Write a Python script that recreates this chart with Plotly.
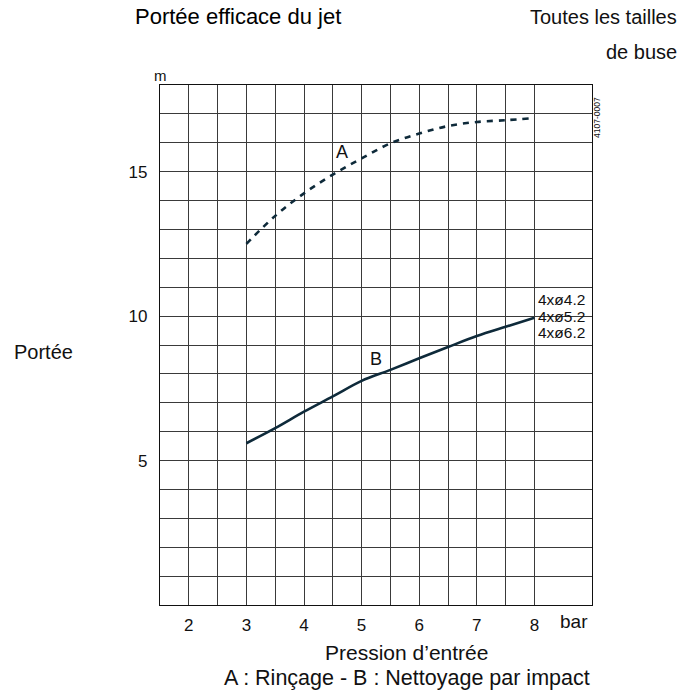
import plotly.graph_objects as go

# Data
pressure = [3, 3.5, 4, 4.5, 5, 5.5, 6, 6.5, 7, 7.5, 7.9]
range_A = [12.5, 13.47, 14.25, 14.9, 15.46, 15.98, 16.32, 16.58, 16.72, 16.78, 16.84]
pressure_B = [3, 3.5, 4, 4.5, 5, 5.5, 6, 6.5, 7, 7.5, 8]
range_B = [5.6, 6.12, 6.69, 7.22, 7.76, 8.14, 8.54, 8.93, 9.31, 9.63, 9.94]
x_ticks = [2, 3, 4, 5, 6, 7, 8]
y_ticks = [5, 10, 15]
nozzle_labels = ["4xø4.2", "4xø5.2", "4xø6.2"]
nozzle_label_y = [10.56, 9.98, 9.42]

FONT = "Liberation Sans, Arial, Helvetica, sans-serif"
LINE = "#0e2a3a"
GRID = "#3a3a3a"

fig = go.Figure()
fig.add_trace(go.Scatter(x=pressure, y=range_A, mode="lines",
                         line=dict(color=LINE, width=2.6, dash="6px,6px", shape="spline"),
                         showlegend=False, hoverinfo="skip"))
fig.add_trace(go.Scatter(x=pressure_B, y=range_B, mode="lines",
                         line=dict(color=LINE, width=2.6, shape="spline"),
                         showlegend=False, hoverinfo="skip"))

fig.update_layout(
    width=700, height=693,
    margin=dict(l=159.5, r=108, t=85, b=88),
    paper_bgcolor="white", plot_bgcolor="white",
    font=dict(family=FONT, size=17, color="#111"),
    xaxis=dict(range=[1.5, 9], tickvals=x_ticks, ticktext=[str(v) for v in x_ticks],
               showgrid=True, gridcolor=GRID, gridwidth=1, zeroline=False,
               showline=True, linecolor="#111", linewidth=1.2, mirror=True,
               ticks="", ticklabelstandoff=4,
               minor=dict(tickvals=[1.5, 2.5, 3.5, 4.5, 5.5, 6.5, 7.5], showgrid=True,
                          gridcolor=GRID, gridwidth=1, ticks=""),
               tickfont=dict(size=17)),
    yaxis=dict(range=[0, 18], tickvals=y_ticks, ticktext=[str(v) for v in y_ticks],
               showgrid=True, gridcolor=GRID, gridwidth=1, zeroline=False,
               showline=True, linecolor="#111", linewidth=1.2, mirror=True,
               ticks="", ticklabelstandoff=8,
               minor=dict(tickvals=[v for v in range(1, 18) if v not in y_ticks],
                          showgrid=True, gridcolor=GRID, gridwidth=1, ticks=""),
               tickfont=dict(size=17)),
)

ann = []
# curve labels
ann.append(dict(x=4.66, y=15.69, xref="x", yref="y", text="A", showarrow=False,
                font=dict(size=18)))
ann.append(dict(x=5.25, y=8.53, xref="x", yref="y", text="B", showarrow=False,
                font=dict(size=18)))
for t, yv in zip(nozzle_labels, nozzle_label_y):
    ann.append(dict(x=8.03, y=yv, xref="x", yref="y", text=t, showarrow=False,
                    xanchor="left", yanchor="middle", font=dict(size=15.5)))
# titles and axis texts
ann += [
    dict(x=-0.0636, y=1.1308, xref="paper", yref="paper", text="Portée efficace du jet",
         showarrow=False, xanchor="left", yanchor="middle",
         font=dict(size=22, color="#000")),
    dict(x=1.2012, y=1.1308, xref="paper", yref="paper", text="Toutes les tailles",
         showarrow=False, xanchor="right", yanchor="middle", font=dict(size=20)),
    dict(x=1.2012, y=1.0635, xref="paper", yref="paper", text="de buse",
         showarrow=False, xanchor="right", yanchor="middle", font=dict(size=20)),
    dict(x=0.001, y=1.019, xref="paper", yref="paper", text="m",
         showarrow=False, xanchor="center", yanchor="middle", font=dict(size=15)),
    dict(x=-0.2694, y=0.4865, xref="paper", yref="paper", text="Portée",
         showarrow=False, xanchor="center", yanchor="middle", font=dict(size=20)),
    dict(x=8.69, y=-0.032, xref="x", yref="paper", text="bar",
         showarrow=False, xanchor="center", yanchor="middle", font=dict(size=19)),
    dict(x=0.5699, y=-0.0904, xref="paper", yref="paper", text="Pression d’entrée",
         showarrow=False, xanchor="center", yanchor="middle", font=dict(size=21)),
    dict(x=0.571, y=-0.1404, xref="paper", yref="paper",
         text="A : Rinçage - B : Nettoyage par impact",
         showarrow=False, xanchor="center", yanchor="middle", font=dict(size=21.5)),
    dict(x=1.0116, y=0.9365, xref="paper", yref="paper", text="4107-0007",
         showarrow=False, xanchor="center", yanchor="middle", textangle=-90,
         font=dict(size=8.5)),
]
fig.update_layout(annotations=ann)

fig.write_html("out.html", config={"displayModeBar": False},
               post_script="document.body.style.margin='0px';")
